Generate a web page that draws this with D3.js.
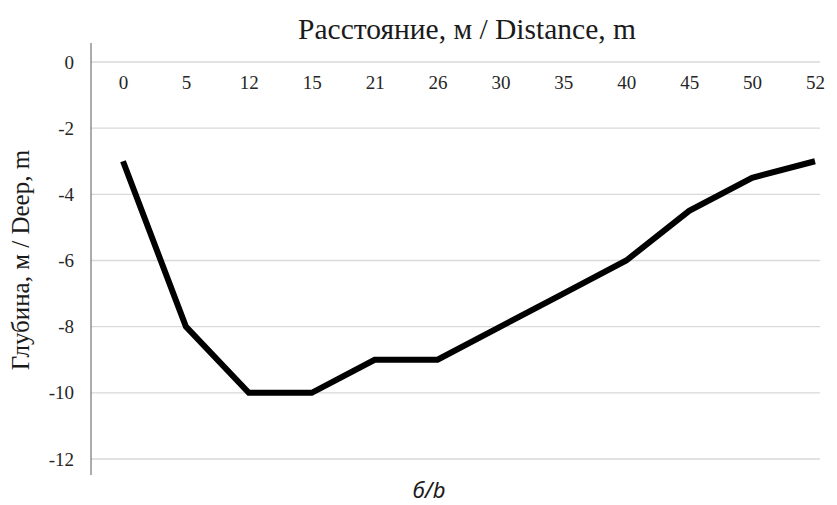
<!DOCTYPE html>
<html>
<head>
<meta charset="utf-8">
<script src="https://cdn.jsdelivr.net/npm/d3@7"></script>
<style>
  body { margin: 0; background: #fff; }
  text { font-family: "Liberation Serif", "Times New Roman", serif; }
</style>
</head>
<body>
<div id="chart"></div>
<script>
// distance labels (categories) and depth values
const distances = ["0", "5", "12", "15", "21", "26", "30", "35", "40", "45", "50", "52"];
const depths = [-3, -8, -10, -10, -9, -9, -8, -7, -6, -4.5, -3.5, -3];
const yTicks = [0, -2, -4, -6, -8, -10, -12];

const svgWidth = 837, svgHeight = 505;
const serif = "'Liberation Serif', 'Times New Roman', serif";

const svg = d3.select("#chart")
  .append("svg")
  .attr("width", svgWidth)
  .attr("height", svgHeight);

// scales
const xScale = d3.scalePoint()
  .domain(distances)
  .range([123, 815]);

const yScale = d3.scaleLinear()
  .domain([-12, 0])
  .range([459, 62]);

// gridlines
svg.append("g")
  .selectAll("line")
  .data(yTicks)
  .enter()
  .append("line")
  .attr("x1", 91)
  .attr("x2", 820)
  .attr("y1", d => yScale(d))
  .attr("y2", d => yScale(d))
  .attr("stroke", "#d9d9d9")
  .attr("stroke-width", 1.3);

// y axis
const yAxis = d3.axisLeft(yScale)
  .tickValues(yTicks)
  .tickFormat(d => String(d))
  .tickSize(0)
  .tickPadding(17);

const yG = svg.append("g")
  .attr("transform", "translate(91,0)")
  .call(yAxis);
yG.select(".domain").remove();
yG.selectAll("text")
  .attr("font-size", 19)
  .attr("fill", "#262626")
  .style("font-family", serif);

svg.append("line")
  .attr("x1", 91).attr("x2", 91)
  .attr("y1", 43).attr("y2", 475)
  .attr("stroke", "#595959")
  .attr("stroke-width", 1);

// x axis labels sit just below the zero line
const xAxis = d3.axisBottom(xScale)
  .tickSize(0)
  .tickPadding(14);

const xG = svg.append("g")
  .attr("transform", `translate(0,${yScale(0)})`)
  .call(xAxis);
xG.select(".domain").remove();
xG.selectAll("text")
  .attr("font-size", 19)
  .attr("fill", "#262626")
  .style("font-family", serif);

// the line
const line = d3.line()
  .x((d, i) => xScale(distances[i]))
  .y(d => yScale(d));

svg.append("path")
  .datum(depths)
  .attr("d", line)
  .attr("fill", "none")
  .attr("stroke", "#000")
  .attr("stroke-width", 6)
  .attr("stroke-linejoin", "miter")
  .attr("stroke-linecap", "butt");

// titles
svg.append("text")
  .attr("x", 467)
  .attr("y", 39)
  .attr("text-anchor", "middle")
  .attr("font-size", 29.5)
  .style("font-family", serif)
  .style("fill", "#1a1a1a")
  .text("Расстояние, м / Distance, m");

svg.append("text")
  .attr("transform", "translate(29,260) rotate(-90)")
  .attr("text-anchor", "middle")
  .attr("font-size", 25)
  .style("font-family", serif)
  .style("fill", "#1a1a1a")
  .text("Глубина, м / Deep, m");

svg.append("text")
  .attr("x", 429)
  .attr("y", 498)
  .attr("text-anchor", "middle")
  .attr("font-size", 22)
  .attr("font-style", "italic")
  .style("font-family", "'Noto Sans', 'Open Sans', sans-serif")
  .style("fill", "#1a1a1a")
  .text("б/b");
</script>
</body>
</html>
